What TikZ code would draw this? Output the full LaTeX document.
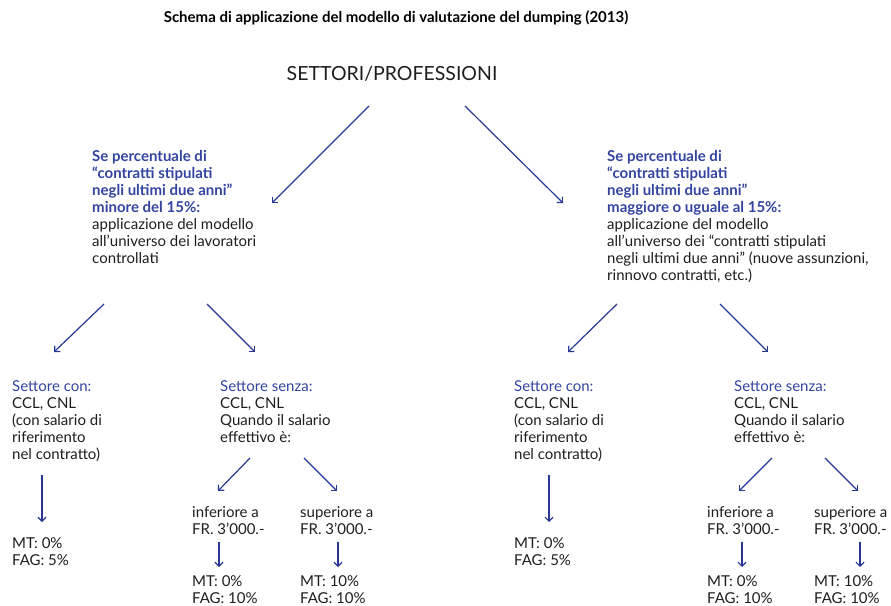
\documentclass[tikz,border=0pt]{standalone}
\usepackage{fontspec}
\usetikzlibrary{arrows.meta}
\setmainfont{Lato}

\definecolor{arrowblue}{RGB}{38,56,148}
\definecolor{textblue}{RGB}{50,68,160}
\definecolor{textgrey}{RGB}{30,30,30}

\newcommand{\hb}[1]{{\color{textblue}\bfseries #1}}
\newcommand{\hn}[1]{{\color{textblue}#1}}

\tikzset{
  arr/.style={draw=arrowblue,line width=1.2pt,-{Straight Barb[length=4pt,width=8pt]}},
  % anchored on the baseline of the last line
  txt/.style={anchor=base west,inner sep=0pt,align=left,text=textgrey,
    font=\fontsize{15}{17}\selectfont},
}

\begin{document}
\begin{tikzpicture}[x=1pt,y=-1pt]
    \useasboundingbox (0,0) rectangle (891,605);

    \node[anchor=base,inner sep=0pt,font=\fontsize{15}{17}\selectfont\bfseries,text=black]
      (title) at (396,22) {Schema di applicazione del modello di valutazione del dumping (2013)};
    \node[anchor=base,inner sep=0pt,font=\fontsize{19.5}{22}\selectfont,text=textgrey]
      (root) at (392,80) {SETTORI/PROFESSIONI};

    % first level
    \node[txt] (condlow) at (92,263) {\hb{Se percentuale di}\\
      \hb{``contratti stipulati}\\ \hb{negli ultimi due anni''}\\
      \hb{minore del 15\%:}\\ applicazione del modello\\
      all'universo dei lavoratori\\ controllati};
    \node[txt] (condhigh) at (607,280) {\hb{Se percentuale di}\\
      \hb{``contratti stipulati}\\ \hb{negli ultimi due anni''}\\
      \hb{maggiore o uguale al 15\%:}\\ applicazione del modello\\
      all'universo dei ``contratti stipulati\\
      negli ultimi due anni'' (nuove assunzioni,\\ rinnovo contratti, etc.)};

    \coordinate (rootL) at (369,106);
    \coordinate (rootR) at (465,106);
    \coordinate (lowT) at (272,203);
    \coordinate (highT) at (563,203);
    \draw[arr] (rootL) -- (lowT);
    \draw[arr] (rootR) -- (highT);

    % second level, left and right
    \foreach \s/\xc/\xs in {L/12/220,R/514/734}{
      \node[txt] (con\s) at (\xc,459) {\hn{Settore con:}\\ CCL, CNL\\
        (con salario di\\ riferimento\\ nel contratto)};
      \node[txt] (senza\s) at (\xs,442) {\hn{Settore senza:}\\ CCL, CNL\\
        Quando il salario\\ effettivo è:};
      \node[txt] (resCon\s) at (\xc,565) {MT: 0\%\\ FAG: 5\%};
    }

    \coordinate (lowA) at (104,304);
    \coordinate (lowB) at (207,304);
    \coordinate (conLT) at (54,352);
    \coordinate (senzaLT) at (255,352);
    \coordinate (highA) at (617,304);
    \coordinate (highB) at (720,304);
    \coordinate (conRT) at (568,352);
    \coordinate (senzaRT) at (768,352);
    \draw[arr] (lowA) -- (conLT);
    \draw[arr] (lowB) -- (senzaLT);
    \draw[arr] (highA) -- (conRT);
    \draw[arr] (highB) -- (senzaRT);

    \coordinate (conLA) at (42,475);
    \coordinate (conLB) at (42,522);
    \coordinate (conRA) at (549,475);
    \coordinate (conRB) at (549,522);
    \draw[arr] (conLA) -- (conLB);
    \draw[arr] (conRA) -- (conRB);

    % third level
    \foreach \s/\xi/\xp in {L/192/300,R/707/814}{
      \node[txt] (inf\s) at (\xi,534) {inferiore a\\ FR. 3'000.-};
      \node[txt] (sup\s) at (\xp,534) {superiore a\\ FR. 3'000.-};
    }
    \node[txt] (resInfL) at (192,603) {MT: 0\%\\ FAG: 10\%};
    \node[txt] (resSupL) at (300,603) {MT: 10\%\\ FAG: 10\%};
    \node[txt] (resInfR) at (707,603) {MT: 0\%\\ FAG: 10\%};
    \node[txt] (resSupR) at (814,603) {MT: 10\%\\ FAG: 10\%};

    \coordinate (senzaLA) at (250,458);
    \coordinate (senzaLB) at (304,458);
    \coordinate (infLT) at (218,491);
    \coordinate (supLT) at (337,491);
    \coordinate (senzaRA) at (772,458);
    \coordinate (senzaRB) at (825,458);
    \coordinate (infRT) at (739,491);
    \coordinate (supRT) at (858,491);
    \draw[arr] (senzaLA) -- (infLT);
    \draw[arr] (senzaLB) -- (supLT);
    \draw[arr] (senzaRA) -- (infRT);
    \draw[arr] (senzaRB) -- (supRT);

    \draw[arr] (219,542) coordinate (infLA) -- (219,567) coordinate (infLB);
    \draw[arr] (338,542) coordinate (supLA) -- (338,567) coordinate (supLB);
    \draw[arr] (742,542) coordinate (infRA) -- (742,567) coordinate (infRB);
    \draw[arr] (860,542) coordinate (supRA) -- (860,567) coordinate (supRB);
  \end{tikzpicture}
\end{document}
